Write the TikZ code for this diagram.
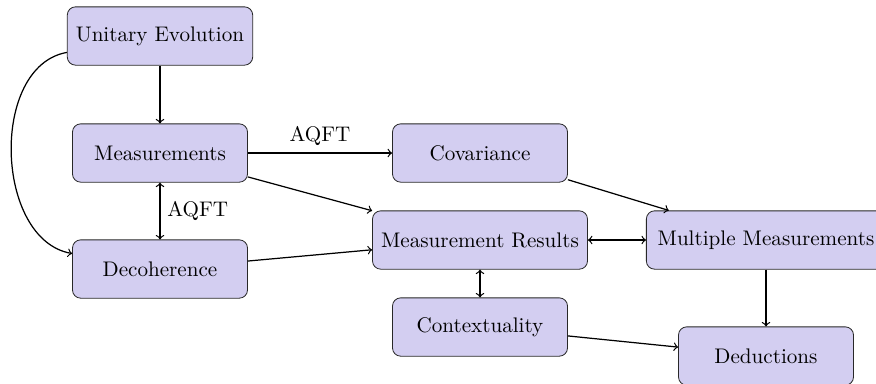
\documentclass[tikz,border=0pt]{standalone}
\usetikzlibrary{arrows}
\definecolor{boxfill}{RGB}{211,206,241}
\definecolor{boxdraw}{RGB}{40,40,40}
\begin{document}
\begin{tikzpicture}[x=0.4878pt, y=-0.4878pt,
  font=\fontsize{10.3}{12.4}\selectfont,
  box/.style={draw=boxdraw, fill=boxfill, rounded corners, minimum width=3cm, minimum height=1cm, inner xsep=4.2pt, align=center},
  conn/.style={->, line width=0.6pt},
  bconn/.style={<->, line width=0.6pt}]
\useasboundingbox (0,0) rectangle (876,383);
\node[box] (ue) at (160,36) {Unitary Evolution};
\node[box] (meas) at (160,153) {Measurements};
\node[box] (dec) at (160,269) {Decoherence};
\node[box] (cov) at (480,153) {Covariance};
\node[box] (mr) at (480,240) {Measurement Results};
\node[box, inner xsep=5.5pt] (mm) at (766,240) {Multiple Measurements};
\node[box] (ctx) at (480,327) {Contextuality};
\node[box] (ded) at (766,356) {Deductions};
\draw[conn] (ue) -- (meas);
\draw[conn] (ue) to[out=-170, in=170] (dec);
\draw[conn] (meas) -- node[above] {AQFT} (cov);
\draw[bconn] (meas) -- node[right] {AQFT} (dec);
\draw[conn] (meas) -- (mr);
\draw[conn] (dec) -- (mr);
\draw[conn] (cov) -- (mm);
\draw[bconn] (mr) -- (mm);
\draw[bconn] (mr) -- (ctx);
\draw[conn] (ctx) -- (ded);
\draw[conn] (mm.south -| ded.north) -- (ded.north);
\end{tikzpicture}
\end{document}
